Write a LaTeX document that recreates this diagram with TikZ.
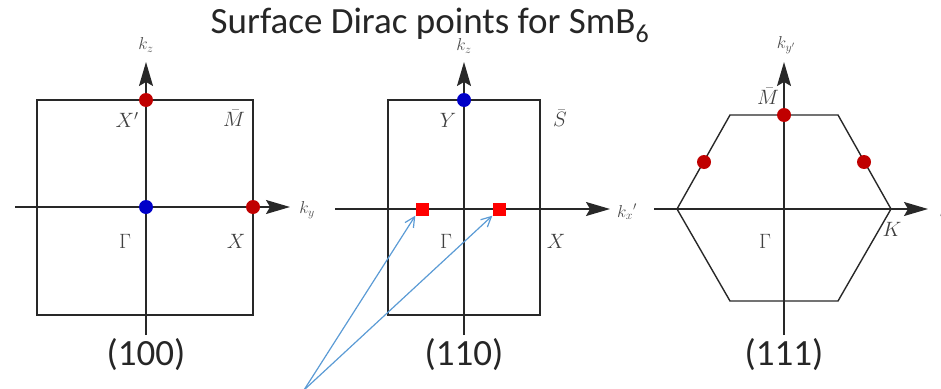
\documentclass[tikz,border=0pt]{standalone}
\usepackage{fontspec}
\newfontfamily\titlefont{Carlito}
\usetikzlibrary{arrows.meta}
\definecolor{dotred}{RGB}{192,0,0}
\definecolor{dotblue}{RGB}{0,0,200}
\definecolor{sqred}{RGB}{255,0,0}
\definecolor{arrblue}{RGB}{91,155,213}
\definecolor{linegray}{RGB}{40,40,40}
\tikzset{
  bz/.style={draw=linegray, line width=1.4pt},
  axis/.style={draw=linegray, line width=1.4pt, -{Stealth[length=24pt,width=14pt,inset=4pt]}},
  rdot/.style={circle, fill=dotred, inner sep=0pt, minimum size=14pt},
  bdot/.style={circle, fill=dotblue, inner sep=0pt, minimum size=14pt},
  rsq/.style={rectangle, fill=sqred, inner sep=0pt, minimum size=13pt},
  lab/.style={font=\fontsize{20}{20}\selectfont, text=black!75},
  klab/.style={font=\fontsize{17}{17}\selectfont, text=black!70},
  face/.style={font=\titlefont\fontsize{37}{37}\selectfont, text=black!85},
  pointer/.style={draw=arrblue, line width=1.2pt, -{Straight Barb[length=10pt,width=10pt]}}
}
\begin{document}
\begin{tikzpicture}[x=1pt,y=-1pt]
\useasboundingbox (0,0) rectangle (941,388);
\node[face] (title) at (430,25) {Surface Dirac points for SmB\textsubscript{6}};
% ---------- (100) ----------
\draw[bz] (37,100) rectangle (253,315);
\coordinate (a1v0) at (146,335);
\coordinate (a1v1) at (146,62);
\coordinate (a1h0) at (15,207);
\coordinate (a1h1) at (290,207);
\draw[axis] (a1v0) -- (a1v1);
\draw[axis] (a1h0) -- (a1h1);
\node[klab] (kz1) at (146,45) {$k_z$};
\node[klab] (ky1) at (307,210) {$k_y$};
\node[rdot] (d1a) at (146,100) {};
\node[bdot] (d1b) at (146,207) {};
\node[rdot] (d1c) at (253,207) {};
\node[lab] (X1p) at (127,120) {$X'$};
\node[lab] (M1) at (234,118) {$\bar{M}$};
\node[lab] (G1) at (125,241) {$\Gamma$};
\node[lab] (X1) at (236,241) {$X$};
\node[face] (c100) at (146,355) {(100)};
% ---------- (110) ----------
\draw[bz] (388,100) rectangle (540,315);
\coordinate (a2v0) at (464,335);
\coordinate (a2v1) at (464,62);
\coordinate (a2h0) at (335,209);
\coordinate (a2h1) at (610,209);
\draw[axis] (a2v0) -- (a2v1);
\draw[axis] (a2h0) -- (a2h1);
\node[klab] (kz2) at (464,46) {$k_z$};
\node[klab] (kx2) at (627,212) {$k_x{}'$};
\node[bdot] (d2a) at (464,100) {};
\node[rsq] (s2a) at (422,209) {};
\node[rsq] (s2b) at (499,209) {};
\node[lab] (Y2) at (448,120) {$Y$};
\node[lab] (S2) at (560,118) {$\bar{S}$};
\node[lab] (G2) at (446,241) {$\Gamma$};
\node[lab] (X2) at (556,241) {$X$};
\node[face] (c110) at (464,355) {(110)};
% pointers
\coordinate (src) at (304,390);
\draw[pointer] (src) -- (s2a.south west);
\draw[pointer] (src) -- (s2b.south west);
% ---------- (111) ----------
\coordinate (hK) at (891,209);
\coordinate (hTR) at (838,115);
\coordinate (hTL) at (730,115);
\coordinate (hL) at (677,209);
\coordinate (hBL) at (730,301);
\coordinate (hBR) at (838,301);
\draw[bz] (hK) -- (hTR) -- (hTL) -- (hL) -- (hBL) -- (hBR) -- cycle;
\coordinate (a3v0) at (784,335);
\coordinate (a3v1) at (784,62);
\coordinate (a3h0) at (654,209);
\coordinate (a3h1) at (928,209);
\draw[axis] (a3v0) -- (a3v1);
\draw[axis] (a3h0) -- (a3h1);
\node[klab] (ky3) at (786,45) {$k_{y'}$};
\node[klab, anchor=west] (kx3) at (936,211) {$k_x{}'$};
\node[rdot] (d3a) at (784,115) {};
\node[rdot] (d3b) at (704,162) {};
\node[rdot] (d3c) at (864,162) {};
\node[lab] (M3) at (768,96) {$\bar{M}$};
\node[lab] (G3) at (765,241) {$\Gamma$};
\node[lab] (K3) at (892,229) {$K$};
\node[face] (c111) at (784,355) {(111)};
\end{tikzpicture}
\end{document}
